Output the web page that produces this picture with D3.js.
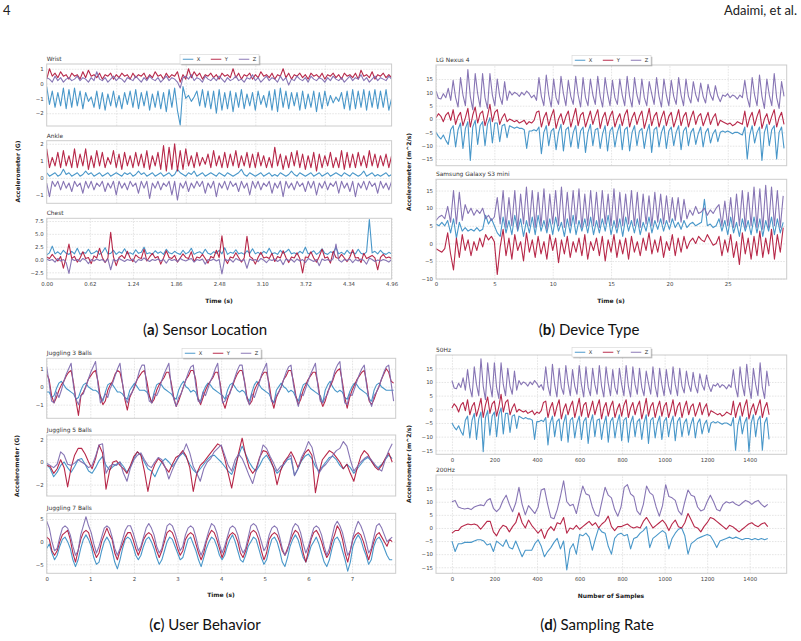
<!DOCTYPE html>
<html><head><meta charset="utf-8">
<script src="https://cdn.jsdelivr.net/npm/d3@7"></script>
<style>body{margin:0;background:#fff}svg{display:block}</style>
</head><body>
<svg id="c" width="801" height="641"></svg>
<script>
// ---------------- DATA ----------------
const axisNames = ["X", "Y", "Z"];
// (a) Sensor location, sampled every 0.04 s
const wristX = [-0.2,-1.4,-0.5,-1.6,-0.6,-1.5,-0.3,-1.7,-0.4,-1.6, -0.3,-1.5,-0.5,-1.7,-0.6,-1.2,-0.9,-1.6,-0.5,-1.7, -0.6,-1.8,-0.7,-1.5,-0.5,-1.6,-0.8,-1.7,-0.6,-1.4, -0.5,-1.6,-0.4,-1.7,-0.6,-1.5,-0.5,-1.8,-0.7,-1.6, -0.5,-1.7,-0.6,-1.9,-0.4,-1.6,-0.3,-1.8,-2.8,-0.2, -1.0,-0.8,-1.2,-0.9,-0.5,-1.5,-0.4,-1.6,-0.5,-1.7, -0.5,-2.0,-0.4,-1.8,-0.6,-1.7,-0.5,-1.9,-0.6,-1.6, -0.4,-1.7,-0.7,-1.5,-0.6,-1.8,-0.5,-1.4,-0.8,-1.6, -0.5,-1.8,-0.4,-1.9,-0.3,-1.6,-0.5,-1.7,-0.6,-1.5, -0.6,-1.8,-0.5,-1.7,-0.7,-1.6,-0.5,-1.9,-0.6,-1.7, -0.5,-1.5,-0.8,-1.3,-0.9,-1.2,-0.6,-1.7,-0.5,-1.8, -0.4,-1.7,-0.5,-1.6,-0.4,-1.8,-0.5,-1.6,-0.4,-1.7, -0.5,-1.6,-0.4,-1.8,-1.0];
const wristY = [0.3,1.0,0.5,0.7,0.4,0.8,0.5,0.6,0.3,0.7, 0.5,0.6,0.3,0.8,0.4,0.9,0.5,0.6,0.4,0.7, 0.3,0.6,0.5,0.7,0.3,0.6,0.4,0.7,0.5,0.6, 0.3,0.7,0.4,0.6,0.5,0.7,0.3,0.6,0.4,0.8, 0.5,0.6,0.3,0.7,0.4,0.6,0.5,0.8,0.1,0.6, 0.3,1.0,0.4,0.8,0.5,0.7,0.3,0.6,0.5,0.7, 0.4,0.6,0.3,0.7,0.5,0.6,0.4,1.0,0.4,0.7, 0.3,0.6,0.5,0.7,0.3,0.6,0.4,0.8,0.5,0.6, 0.4,0.7,0.3,0.6,0.5,1.0,0.4,0.7,0.3,0.6, 0.5,0.7,0.4,0.6,0.3,0.7,0.5,0.6,0.4,0.7, 0.3,0.6,0.5,0.7,0.4,0.6,0.3,0.7,0.5,0.6, 0.4,0.7,0.3,0.9,0.5,0.6,0.4,0.8,0.3,0.6, 0.5,0.7,0.4,0.6,0.4];
const wristZ = [0.4,0.3,0.1,0.5,0.2,0.4,0.1,0.3,0.4,0.2, 0.3,0.5,0.2,0.4,0.3,0.1,0.4,0.2,0.8,0.3, 0.2,0.4,0.1,0.3,0.5,0.2,0.4,0.3,0.1,0.4, 0.3,0.2,0.5,0.3,0.1,0.4,0.2,0.5,0.3,0.2, 0.4,0.1,0.3,0.5,0.2,0.4,0.3,0.1,-0.3,0.4, 0.5,0.3,0.6,0.2,0.4,0.3,0.1,0.5,0.3,0.2, 0.4,0.2,0.5,0.3,0.1,0.4,0.2,0.3,0.5,0.2, 0.3,0.1,0.4,0.3,0.6,0.2,0.4,0.1,0.3,0.5, 0.2,0.4,0.3,0.1,0.5,0.2,0.4,-0.1,0.3,0.2, 0.5,0.3,0.2,0.4,0.1,0.5,0.3,0.2,0.4,0.3, 0.1,0.4,0.2,0.5,0.3,0.2,0.4,0.1,0.3,0.5, 0.2,0.4,0.3,0.6,0.2,0.4,0.1,0.3,0.5,0.2, 0.4,0.3,0.2,0.5,0.3];
const ankleX = [0.3,0.1,0.2,0.3,0.1,0.2,0.5,0.2,0.3,0.1, 0.2,0.3,0.1,0.2,0.4,0.2,0.3,0.1,0.2,0.3, 0.1,0.2,0.3,0.1,0.2,0.3,0.2,0.1,0.3,0.2, 0.3,0.1,0.2,0.4,0.2,0.3,0.1,0.2,0.3,0.1, 0.2,0.3,0.1,0.2,0.3,0.1,0.2,0.5,0.3,0.2, 0.1,0.3,0.2,0.4,0.1,0.2,0.3,0.1,0.2,0.3, 0.2,0.1,0.3,0.2,0.1,0.3,0.2,0.1,0.2,0.3, 0.5,0.2,0.1,0.3,0.2,0.1,0.2,0.3,0.1,0.2, 0.3,0.1,0.2,0.1,0.3,0.2,0.1,0.2,0.4,0.2, 0.1,0.3,0.2,0.1,0.2,0.3,0.1,0.2,0.3,0.1, 0.2,0.3,0.1,0.2,0.3,0.2,0.1,0.3,0.2,0.1, 0.3,0.2,0.1,0.2,0.4,0.1,0.2,0.3,0.1,0.2, 0.1,0.2,0.3,0.1,0.2];
const ankleY = [1.7,0.6,1.2,0.7,1.5,0.6,1.6,0.7,1.3,0.6, 1.7,0.6,1.4,0.7,1.7,0.5,1.3,0.6,1.6,0.7, 1.5,0.6,1.2,0.8,1.6,0.6,1.4,0.5,1.5,0.7, 1.3,0.6,1.5,0.7,1.4,0.6,1.6,0.5,1.3,0.7, 1.5,0.5,1.9,0.4,1.8,0.5,2.0,0.4,1.6,0.5, 1.7,0.7,1.3,0.6,1.5,0.7,1.2,0.8,1.4,0.6, 1.6,0.7,1.3,0.6,1.5,0.6,1.4,0.7,1.6,0.6, 1.3,0.7,1.5,0.6,1.4,0.6,1.5,0.7,1.3,0.6, 1.2,0.6,1.8,0.7,1.4,0.5,1.3,0.6,1.5,0.7, 1.6,0.6,1.4,0.5,1.3,0.6,1.5,0.4,1.4,0.6, 1.3,0.7,1.5,0.6,1.2,0.6,1.6,0.5,1.5,0.6, 1.4,0.6,1.5,0.7,1.3,0.6,1.6,0.7,1.4,0.6, 1.3,0.7,1.4,0.6,1.3];
const ankleZ = [-0.3,-1.1,-0.2,-0.5,-0.2,-0.7,-0.2,-0.6,-0.3,-0.8, -0.2,-0.5,-0.3,-0.9,-0.2,-0.6,-0.2,-0.7,-0.3,-0.5, -0.2,-0.8,-0.3,-0.6,-0.2,-1.0,-0.2,-0.6,-0.3,-0.7, -0.2,-0.5,-0.3,-0.9,-0.2,-0.6,-0.2,-1.2,-0.3,-0.6, -0.2,-0.7,-0.3,-0.5,-0.2,-1.0,-0.2,-1.3,-0.3,-0.6, -0.2,-0.8,-0.3,-0.6,-0.2,-0.5,-0.2,-0.9,-0.3,-0.6, -0.2,-1.1,-0.3,-0.6,-0.2,-0.7,-0.2,-0.5,-0.3,-0.8, -0.2,-0.6,-0.3,-1.0,-0.2,-0.6,-0.2,-0.7,-0.3,-0.5, -0.2,-0.9,-0.3,-0.6,-0.2,-1.1,-0.2,-0.6,-0.3,-0.7, -0.2,-0.5,-0.3,-0.8,-0.2,-0.6,-0.2,-1.0,-0.3,-0.6, -0.2,-0.7,-0.3,-0.5,-0.2,-0.9,-0.2,-0.6,-0.3,-0.8, -0.2,-1.1,-0.3,-0.6,-0.2,-0.7,-0.2,-0.5,-0.3,-0.9, -0.2,-0.6,-0.3,-0.7,-0.2];
const chestX = [0.9,1.3,2.6,1.1,1.5,1.0,1.8,1.2,1.0,1.6, 1.1,2.2,1.0,1.4,1.2,2.0,1.1,1.3,1.7,1.0, 1.4,2.3,1.1,1.2,1.8,1.0,1.5,1.2,2.1,1.1, 1.3,1.0,1.9,1.2,1.4,2.4,1.1,1.3,1.0,1.7, 1.2,1.5,1.0,2.0,1.3,1.1,1.6,1.2,1.0,1.8, 1.1,1.4,2.2,1.0,1.3,1.5,1.1,2.0,1.2,1.0, 1.5,1.2,1.8,1.1,2.3,1.0,1.4,1.2,1.9,1.1, 1.3,1.0,1.7,1.2,2.1,1.1,1.4,1.0,1.6,1.2, 2.2,1.1,1.3,1.0,1.8,1.2,1.5,2.0,1.1,1.3, 1.0,1.6,1.2,2.4,1.1,1.3,1.7,1.0,1.4,2.1, 1.2,1.0,1.5,1.3,2.3,1.1,1.4,1.0,1.8,1.2, 1.4,1.1,2.0,1.2,1.0,1.5,7.8,1.3,1.6,1.1, 1.8,1.2,1.0,1.4,1.1];
const chestY = [0.5,0.2,1.0,0.3,-0.3,0.6,-1.7,0.4,3.0,0.2, 0.6,-0.5,0.3,1.5,0.2,0.4,-0.8,0.7,0.3,2.2, 0.4,-0.6,0.3,5.3,0.5,-1.2,0.4,0.8,0.2,1.6, 0.3,-0.4,0.9,0.4,0.2,2.0,-0.3,0.5,1.2,0.3, 0.6,-0.9,0.3,1.7,0.4,0.2,0.8,-0.5,0.3,1.1, 0.4,0.2,1.5,-0.4,0.5,0.3,1.0,0.2,-0.7,0.6, 0.3,1.8,0.4,4.6,0.2,-0.8,0.5,0.3,1.3,0.4, -0.5,0.3,4.5,0.6,0.2,-0.9,0.4,1.4,0.3,0.5, 0.2,1.2,-0.4,0.6,0.3,1.7,0.4,-0.6,0.5,0.3, 1.3,0.2,-2.6,0.5,0.4,1.5,0.3,-0.5,0.6,2.0, 0.3,0.5,-0.7,1.6,0.4,0.2,1.0,0.3,-0.4,0.5, 1.9,0.3,0.4,-0.6,1.2,0.2,0.5,0.8,0.3,-2.0, 0.4,1.0,0.3,0.5,0.2];
const chestZ = [0.1,-0.2,0.0,-0.5,0.2,-0.3,0.0,-0.6,-2.7,0.1, -0.2,0.0,-0.4,0.2,-0.1,-0.8,0.0,-0.3,0.1,-0.2, 0.0,-0.5,0.1,-2.0,0.0,-0.3,0.2,-0.1,-0.4,0.0, -0.2,0.1,-0.6,0.0,-0.2,0.3,-0.1,-0.4,0.0,-0.2, 0.1,-0.3,0.0,-0.7,0.1,-0.2,0.0,-0.4,0.2,-0.1, -0.3,0.0,0.2,-0.5,0.0,-0.2,0.1,-0.9,0.0,-0.2, 0.1,-0.3,0.0,-2.8,0.1,-0.2,0.0,-0.5,0.2,-0.1, -0.3,0.0,-1.7,0.1,-0.2,0.0,-0.4,0.2,-0.1,-0.6, 0.0,-0.2,0.1,-0.4,0.0,-1.0,0.1,-0.2,0.0,-0.5, 0.1,-0.3,0.0,-0.6,0.2,-0.1,-0.4,0.0,-1.2,0.1, -0.2,0.0,-0.3,0.2,3.0,-0.1,-0.5,0.0,-0.2,0.1, -0.6,0.0,-0.3,0.1,-0.2,-0.9,0.3,0.0,-0.4,-0.1, -0.3,0.0,-0.2,-0.5,0.0];
// (b) LG Nexus 4 (also the 50Hz recording in (d)), one value every 0.21 s
const nexusX = [-5.0,-6.5,-7.5,-6.0,-8.0,-9.5,-4.0, -2.5,-10.5,-4.0,-1.5,-11.0,-3.5,-1.0,-15.5,-3.0,-0.5,-9.5,-2.5,-1.0,-10.0,-2.0,0.5,-9.0,-1.5,-1.5,-8.5,-2.5,-2.0,-7.0, -2.5,-3.0,-3.5,-3.0,-3.5,-3.5,-4.0,-11.0,-4.5,-4.5,-4.0, -4.5, -3.0,-13.0,-5.0,-2.5,-10.0,-4.5,-3.5,-11.5,-5.0,-2.0,-12.0,-4.0,-3.0,-10.5,-5.0,-2.5,-11.0,-4.5,-3.0,-12.5,-5.0,-2.0,-10.0,-4.0,-3.5,-11.0,-5.5,-2.5,-12.0,-4.5,-3.0,-10.5,-5.0,-2.0,-11.5,-4.0,-3.0,-12.0,-5.0,-2.5,-10.0,-4.5,-3.5,-11.0,-5.0,-2.0,-12.5,-4.0,-3.0,-10.5,-5.0,-2.5,-11.0,-4.5,-3.0,-10.0,-5.0,-2.5,-11.5,-4.5,-3.0,-10.0,-5.0,-3.5,-9.5,-5.5,-3.0,-10.5,-5.0,-3.5,-9.0,-5.5,-4.0,-8.5,-5.0, -4.5,-5.0,-4.5,-5.0,-5.5,-5.0,-5.0,-5.5,-6.0, -3.0,-15.0,-6.0,-2.5,-9.0,-5.0,-3.0,-15.5,-5.0,-2.0,-10.0,-4.0,-2.5,-15.0,-5.0,-3.0,-11.0];
const nexusY = [0.5,2.0,1.0,-1.0,1.5,2.5,-0.5, 3.5,-2.0,1.0,2.5,-2.5,0.5,4.0,-3.0,1.5,4.5,-1.5,2.0,3.0,-2.5,1.0,5.5,-1.0,2.5,3.5,-2.0,0.5,2.0,-1.0, 0.0,-0.5,-1.0,-0.5,-1.5,-1.0,-0.5,-2.0,-1.0,-1.5,-0.5, 2.5, 3.0,-3.0,0.5,2.5,-2.5,1.0,3.5,-3.5,0.0,2.0,-2.0,1.0,3.0,-3.0,0.5,4.0,-2.5,1.5,2.5,-3.0,0.0,3.0,-2.0,1.0,3.5,-3.5,0.5,2.5,-2.5,1.0,3.0,-3.0,0.0,2.0,-2.5,1.5,3.5,-3.0,0.5,2.5,-2.0,1.0,3.0,-3.5,0.0,4.0,-2.5,1.0,2.5,-3.0,0.5,3.0,-2.5,1.0,2.5,-3.0,0.0,3.5,-2.5,1.0,2.5,-3.0,0.5,3.0,-2.0,1.0,2.0,-2.5,0.0,2.5,-2.0,0.5,2.0,-2.5,-0.5, -1.0,-1.5,-2.0,-1.5,-2.5,-2.0,-1.0,-1.5,-2.0, 3.0,-3.0,0.5,2.5,-2.5,1.0,3.5,-3.5,0.0,2.0,-2.0,1.0,3.5,-3.0,0.5,2.5,-2.0];
const nexusZ = [10.5,7.8,7.5,9.5,8.0,11.5,7.0, 14.5,8.0,4.5,15.5,9.0,5.0,18.5,8.5,3.5,17.0,9.5,4.5,17.0,8.0,4.0,17.0,9.0,5.0,15.0,8.5,5.5,14.0,7.0, 10.5,9.0,10.0,9.5,8.5,10.0,9.0,10.5,9.5,8.0,9.0, 7.0, 15.5,8.5,5.0,16.5,9.0,4.5,15.0,8.0,5.5,16.0,9.5,5.0,14.5,8.5,5.5,16.0,9.0,4.5,15.5,8.0,5.0,15.0,9.0,5.5,16.0,8.5,4.5,15.5,9.5,5.0,14.5,8.0,5.5,15.0,9.0,5.0,16.0,8.5,4.5,15.5,9.0,5.5,15.0,8.0,5.0,14.0,9.5,5.5,15.5,8.5,4.5,15.0,9.0,5.0,14.5,8.5,5.5,15.5,9.0,5.0,15.0,8.5,6.0,14.0,9.0,6.5,13.5,8.5,6.0,13.0,9.0,7.0,12.5,8.5,6.5, 9.0,8.5,9.5,8.0,9.0,8.5,7.5,9.0,8.0, 14.5,8.0,4.5,15.5,9.0,5.0,16.5,8.5,4.0,15.0,9.0,5.0,17.0,8.0,4.0,14.0,8.5];
// (b) Samsung Galaxy S3 mini, one value every 0.25 s
const samsungX = [5.5,5.0,6.0,5.0, 6.5,3.0,7.0,1.5,6.0,3.5, 4.5,3.5,4.0,3.5,4.5,3.5,4.0, 8.0,5.5,7.0,5.0, 3.0,2.0, 7.5,3.0,6.5,2.5,8.0,3.5,7.0,2.0,6.5,3.0,7.5,2.5,8.0,3.5,6.5,3.0,7.0,2.5,7.5,3.5,6.0,2.0,7.0,3.0,8.0,2.5,6.5,3.5,7.0,3.0,7.5,2.5,6.5,3.0,7.0,3.5,8.0,2.5,6.5,3.0,7.0,2.0,7.5,3.5,6.5,3.0,7.0,2.5,6.0,3.5,7.5,3.0,6.5,4.0,7.0,3.5,6.5,4.0,7.0,4.5,6.0,4.0,6.5,4.5, 5.5,6.0,5.0,5.5,6.0,12.5,5.0,5.5,4.5,5.0, 7.0,3.5,6.5,2.5,7.5,3.0,6.0,2.0,7.0,3.5,6.5,2.5,7.5,3.0,7.0,2.0,6.5,3.5,7.5,2.5,7.0,3.0,6.0];
const samsungY = [-1.5,-2.0,-2.5,-1.5, 3.0,-3.0,-7.5,1.5,-4.0,2.5, -2.0,1.0,-3.5,0.5,-2.0,1.5,-1.0, 2.5,1.0,2.0,0.5, -8.8,-1.0, 4.0,-3.5,1.5,-4.5,2.5,-2.0,0.5,-5.0,3.0,-2.5,1.0,-4.0,2.0,-3.0,0.5,-4.5,2.5,-2.0,1.5,-5.5,1.0,-3.0,2.0,-4.0,0.5,-2.5,1.5,-3.5,2.5,-4.5,0.5,-2.0,1.5,-3.5,2.0,-5.0,1.0,-2.5,2.5,-4.0,1.0,-3.0,1.5,-4.5,2.0,-2.5,0.5,-3.5,1.5,-2.0,3.0,-3.0,1.0,-2.5,2.0,-4.0,0.5,-2.0,2.5,-3.5,1.5,-2.5,2.0,-1.5, 0.5,1.5,0.0,2.0,1.0,0.5,2.5,1.0,-0.5,0.0, 2.0,-3.5,1.0,-2.5,2.5,-4.0,0.5,-6.0,3.0,-3.0,1.5,-4.5,2.0,-3.5,3.5,-4.0,1.5,-3.0,4.0,-4.5,2.5,-2.5,4.5];
const samsungZ = [6.5,7.5,8.0,7.0, 10.5,6.0,15.0,5.5,14.5,6.5, 11.0,8.5,10.0,8.0,9.5,8.5,10.0, 7.0,8.0,6.5,7.5, 13.0,5.5, 15.0,4.5,13.0,5.0,15.0,4.0,14.0,5.5,16.0,5.0,15.0,4.5,14.5,5.0,15.5,4.0,14.0,5.5,15.0,5.0,16.0,4.5,14.5,5.0,15.0,5.5,15.5,4.5,14.0,5.0,15.0,5.0,14.5,4.5,15.0,5.5,14.0,5.0,15.5,4.5,14.5,5.0,14.0,5.5,15.0,5.0,14.5,4.5,14.0,5.5,13.5,5.0,14.5,6.0,14.0,5.5,13.5,6.0,13.0,6.5,13.0,6.0,12.5,7.0, 9.5,8.0,10.5,8.5,9.0,10.0,8.0,9.5,8.5,10.0, 11.0,5.0,12.0,5.0,13.0,4.5,14.0,5.0,15.0,4.5,14.5,5.0,16.0,4.5,15.5,4.0,16.5,4.5,16.0,5.0,15.0,4.5,13.5];
// (c) User behaviour
const jug3X = [-0.3,-0.3,-0.6,-0.5,-0.1,0.2,0.3,0.1,-0.1,-0.2, -0.3,-0.4,-0.7,-0.6,-0.2,0.1,0.2,0.0,-0.1,-0.2, -0.2,-0.3,-0.5,-0.8,-0.3,0.1,0.2,0.1,-0.1,-0.3, -0.3,-0.4,-0.6,-0.7,-0.2,0.0,0.2,0.0,-0.2,-0.2, -0.2,-0.3,-0.5,-0.9,-0.3,0.1,0.2,0.1,-0.1,-0.2, -0.3,-0.4,-0.6,-0.7,-0.2,0.1,0.3,0.0,-0.1,-0.3, -0.2,-0.3,-0.7,-0.8,-0.3,0.0,0.2,0.1,-0.1,-0.2, -0.3,-0.4,-0.5,-0.7,-0.2,0.1,0.2,0.0,-0.2,-0.3, -0.2,-0.3,-0.6,-0.8,-0.3,0.1,0.3,0.1,-0.1,-0.2, -0.3,-0.4,-0.7,-0.9,-0.2,0.0,0.2,0.0,-0.1,-0.3, -0.2,-0.3,-0.6,-0.8,-0.3,0.1,0.2,0.1,-0.1,-0.2, -0.3,-0.4,-0.5,-0.9,-0.2,0.1,0.3,0.0,-0.2,-0.3, -0.2,-0.3,-0.6,-0.7,-0.3,0.0,0.2,0.1,-0.1,-0.2, -0.3,-0.4,-0.7,-0.8,-0.2,0.1,0.2,0.0,-0.1,-0.2, -0.2,-0.2,-0.2];
const jug3Y = [0.7,0.4,-0.5,-0.9,-0.6,-0.2,0.1,0.3,0.6,0.8, 0.9,0.2,-0.8,-1.6,-0.5,-0.3,0.0,0.4,0.6,0.8, 0.9,0.3,-0.6,-1.0,-0.8,-0.2,0.1,0.3,0.7,0.9, 0.8,0.2,-0.7,-1.3,-0.6,-0.3,0.0,0.4,0.6,0.8, 0.9,0.3,-0.5,-0.9,-0.7,-0.2,0.1,0.3,0.5,0.8, 0.8,0.2,-0.6,-1.1,-0.8,-0.4,0.0,0.4,0.6,0.9, 0.9,0.4,-0.7,-1.0,-0.6,-0.2,0.1,0.3,0.5,0.8, 0.8,0.2,-0.8,-1.2,-0.7,-0.3,0.0,0.4,0.7,0.9, 0.9,0.3,-0.6,-1.0,-0.8,-0.2,0.1,0.3,0.6,0.8, 0.8,0.2,-0.7,-1.2,-0.6,-0.3,0.0,0.4,0.6,0.9, 0.9,0.3,-0.5,-1.0,-0.7,-0.2,0.1,0.4,0.6,0.8, 0.8,0.2,-0.7,-1.1,-0.8,-0.3,0.0,0.3,0.7,0.9, 1.0,0.3,-0.6,-1.2,-0.6,-0.2,0.1,0.4,0.6,0.8, 0.9,0.2,-0.8,-1.0,-0.7,-0.3,0.0,0.4,0.7,1.0, 0.8,0.3,0.2];
const jug3Z = [1.1,0.2,-0.8,-0.9,-0.3,-0.6,-0.2,0.3,0.7,1.0, 1.3,0.0,-0.7,-1.0,-0.5,-0.4,0.0,0.4,0.8,1.1, 1.4,0.1,-0.9,-0.7,-0.4,-0.6,-0.1,0.2,0.6,1.0, 1.3,0.2,-0.6,-0.9,-0.5,-0.3,0.1,0.4,0.9,1.2, 1.2,-0.1,-0.8,-0.9,-0.4,-0.5,-0.2,0.3,0.7,1.0, 1.3,0.0,-0.7,-1.1,-0.6,-0.4,0.0,0.4,0.8,1.1, 1.2,0.1,-0.8,-0.9,-0.3,-0.5,-0.1,0.3,0.6,1.0, 1.3,0.0,-0.9,-0.8,-0.5,-0.4,0.1,0.5,0.9,1.2, 1.2,0.2,-0.7,-1.0,-0.4,-0.6,-0.2,0.2,0.7,1.0, 1.3,-0.1,-0.8,-0.9,-0.5,-0.3,0.0,0.4,0.8,1.1, 1.2,0.1,-0.6,-1.1,-0.4,-0.5,-0.1,0.3,0.7,1.0, 1.3,0.0,-0.8,-0.9,-0.6,-0.4,0.1,0.4,0.9,1.2, 1.4,0.1,-0.9,-1.0,-0.4,-0.5,-0.1,0.3,0.7,1.0, 1.2,0.0,-0.7,-1.1,-0.5,-0.3,0.0,0.4,0.8,1.1, 1.2,0.2,-0.8];
const jug5X = [-0.2,-0.6,-1.3,-0.9,-0.3,0.0,-0.5,-0.9,-0.4,0.2, 0.3,-0.2,-0.8,-1.0,-0.5,0.1,0.5,-0.3,-0.7,-0.4, -0.2,0.0,-0.4,-0.9,-0.4,0.3,0.9,0.6,0.0,-0.6, -0.8,-1.3,-0.6,0.0,0.3,0.0,-0.4,0.0,0.5,0.8, 0.4,-0.2,-0.7,-1.0,-0.6,-0.2,0.2,0.5,0.6,0.3, 0.0,-0.4,-0.8,-1.1,-0.3,0.6,1.4,0.7,0.0,-0.5, -0.8,-0.3,0.3,0.6,0.1,-0.5,-1.0,-0.7,-0.2,0.2, 0.3,-1.2,-0.6,0.1,0.5,0.7,0.3,-0.4,-0.8,-0.4, 0.0,0.4,0.5,0.2,-0.3,-0.6,-0.2,-0.5,-1.0,-0.6, -0.2,0.2,0.4,0.1,-0.3,-0.5,-0.2,0.2,0.6,0.3];
const jug5Y = [-0.3,-0.4,-1.0,-0.6,0.2,-0.5,-2.2,-0.5,0.6,1.2, 1.2,0.7,0.0,-0.6,0.3,1.5,0.8,-2.4,-0.8,0.0, 0.1,-0.3,-0.6,-1.0,-0.3,0.5,0.9,0.6,-0.8,-2.6, -1.0,-0.2,0.3,0.0,-0.5,-0.9,-0.2,0.4,0.6,1.0, 0.5,-0.5,-2.6,-1.0,-0.3,0.0,0.4,0.8,1.2,1.6, 1.4,0.3,-1.0,-2.3,-0.7,0.8,2.1,0.6,-0.5,-1.0, -0.6,0.4,1.0,0.9,0.3,-0.5,-2.0,-0.8,0.0,0.4, 0.9,0.3,-0.5,0.2,0.8,1.1,0.6,-2.7,-1.0,0.2, 0.6,1.0,0.8,0.4,0.0,-0.6,-0.2,-1.0,-1.7,-0.5, 0.5,1.0,0.7,0.1,-0.4,-0.7,-0.3,0.3,0.8,0.0];
const jug5Z = [-0.1,-0.3,-0.5,-0.2,0.9,0.6,-0.2,-0.3,-0.1,0.2, 0.0,-0.2,-0.5,-0.3,0.5,1.5,1.6,-1.0,-0.4,-0.2, -0.3,0.0,-1.0,-1.7,-0.5,0.2,0.6,0.8,0.2,-0.3, -0.5,0.0,0.4,0.2,-0.5,-1.5,-0.7,0.0,0.6,0.8, 1.6,0.8,-0.4,-1.0,-1.7,-0.6,0.0,0.3,0.9,1.2, 1.5,0.6,-0.3,-0.8,0.2,0.7,0.3,-0.4,-1.2,-1.9, -0.8,0.3,1.5,1.2,0.5,-0.1,-0.8,-0.4,-0.2,0.3, 0.6,-1.2,-0.6,0.4,1.0,1.8,1.3,0.0,-1.0,-0.5, -0.2,0.2,0.6,1.0,1.2,1.8,1.4,0.2,-0.8,-0.4, 0.0,0.3,0.5,0.2,-0.2,-0.6,-0.8,0.2,1.0,1.6];
const jug7X = [-1.5,-0.5,-2.5,-4.0,-3.0,-1.0,0.5,1.0, 0.0,-1.5,-4.0,-5.5,-4.0,-1.5,0.5,1.5, 0.5,-1.0,-3.5,-5.0,-4.5,-2.0,0.0,1.0, 0.0,-2.0,-4.5,-6.0,-4.0,-1.5,0.5,1.0, 0.5,-1.0,-3.0,-4.0,-3.0,-1.0,0.5,1.0, 0.0,-1.5,-3.5,-5.0,-4.0,-2.0,0.0,1.0, 0.5,-1.0,-2.5,-4.0,-3.5,-1.5,0.5,1.0, -0.5,-2.0,-4.0,-5.5,-3.5,-1.5,0.0,1.0, 0.5,-1.0,-3.0,-4.0,-3.0,-1.0,0.5,1.5, 0.0,-2.0,-4.0,-4.5,-3.0,-1.0,0.0,1.0, 0.5,-1.5,-3.5,-5.0,-4.0,-1.5,0.5,1.0, 0.0,-2.0,-4.5,-5.5,-3.5,-1.0,0.5,1.5, 0.5,-1.5,-3.5,-4.5,-3.0,-1.0,0.0,1.0, -0.5,-2.5,-4.5,-5.5,-4.0,-1.5,0.5,1.0, 0.0,-2.0,-4.0,-6.5,-4.5,-1.0,0.5,1.5, 0.5,-1.5,-3.0,-5.0,-4.0,-1.0,0.5,1.0, 0.0,-1.5,-3.0,-4.0,-4.0];
const jug7Y = [1.0,0.5,-2.0,-3.0,-2.0,0.0,1.5,2.0, 2.5,0.5,-2.5,-4.5,-2.0,0.5,2.0,2.5, 2.0,0.0,-2.0,-3.5,-2.5,0.0,1.5,3.0, 1.5,0.5,-2.5,-4.0,-2.0,-0.5,1.0,2.0, 2.0,0.5,-1.5,-3.0,-1.5,0.5,1.5,2.0, 1.5,0.0,-2.0,-3.5,-2.0,0.0,2.0,2.5, 2.0,0.5,-1.5,-3.0,-2.0,0.5,1.5,2.0, 1.5,-0.5,-2.5,-4.0,-2.5,0.0,1.5,2.5, 2.0,0.5,-1.5,-3.5,-2.0,0.5,1.5,2.0, 1.5,0.0,-2.5,-3.5,-2.0,0.0,2.0,2.5, 2.0,0.5,-2.0,-4.0,-2.5,0.5,1.5,2.0, 1.5,0.0,-2.0,-3.0,-1.5,0.0,1.5,2.5, 2.0,0.5,-2.5,-4.5,-2.0,0.5,2.0,2.5, 1.5,0.0,-2.0,-3.5,-2.5,0.0,1.5,3.5, 2.5,0.5,-2.5,-4.5,-2.0,0.5,1.5,2.0, 1.5,0.0,-2.0,-4.0,-2.0,0.0,1.5,2.0, 1.0,0.0,-1.0,0.5,0.0];
const jug7Z = [4.5,3.0,0.0,-2.0,-1.5,1.0,3.0,3.5, 3.0,1.5,-1.0,-3.0,-2.0,1.5,3.5,5.5, 3.5,2.0,-0.5,-2.5,-1.0,1.0,3.0,3.5, 3.0,1.0,-1.5,-3.0,-1.5,0.5,2.5,3.5, 3.5,2.0,0.0,-2.0,-1.0,1.0,3.0,4.0, 3.0,1.5,-1.0,-2.5,-1.5,1.0,3.5,4.0, 3.5,2.0,0.0,-2.0,-1.0,1.5,3.0,3.5, 3.0,1.0,-1.5,-3.0,-1.5,0.5,2.5,4.0, 3.5,2.0,-0.5,-2.5,-1.0,1.0,3.0,3.5, 3.0,1.5,-1.0,-2.5,-1.5,1.0,3.5,4.0, 3.5,2.0,0.0,-2.0,-1.0,1.5,3.0,3.5, 3.0,1.0,-1.5,-3.0,-2.0,0.5,3.0,4.0, 3.5,2.0,-0.5,-2.5,-1.0,1.0,3.0,3.5, 3.0,1.5,-1.0,-3.0,-1.5,1.0,3.5,4.5, 3.5,2.0,-0.5,-3.0,-2.0,1.0,3.0,4.5, 3.5,2.0,0.0,-2.5,-1.5,1.0,3.5,4.0, 3.0,1.5,0.0,0.5,1.0];
// (d) 200Hz recording, one value every 15 samples
const hz200X = [-5.0,-9.0,-6.0,-6.0,-5.5,-5.5,-5.5,-5.0,-4.5,-4.5, -5.0,-6.5,-6.0,-9.0,-5.0,-6.0,-7.0,-4.5,-7.5,-8.0, -5.0,-8.0,-11.0,-8.5,-8.5,-8.5,-6.0,-4.5,-7.0,-11.0, -9.0,-7.5,-5.5,-4.0,-8.0,-5.0,-16.0,-8.0,-6.0,-10.0, -2.5,-3.0,-2.0,-3.5,-8.5,-4.0,0.0,-1.5,-2.0,-7.0, -10.0,-4.0,-2.5,-2.0,-3.0,-2.5,-8.0,-4.0,-3.5,-2.0, -1.0,0.5,-7.5,-4.0,-3.0,-2.0,-1.0,-2.0,-8.0,-4.0, -2.0,-0.5,0.0,-3.0,-10.0,-6.0,-5.0,-4.0,-3.5,-3.0, -2.5,-3.0,-5.0,-7.5,-5.0,-4.5,-4.0,-3.5,-4.0,-3.5, -4.0,-4.5,-4.0,-4.0,-4.5,-4.0,-4.5,-4.0,-4.5,-4.0];
const hz200Y = [-2.0,-1.0,-1.0,0.5,1.0,1.5,1.2,1.5,1.0,-0.5, 1.0,2.5,2.5,-1.5,-3.0,-0.5,1.0,0.5,-1.5,0.5, 2.0,5.8,2.0,0.0,3.0,1.0,-0.5,-2.0,-0.5,-4.0, -1.0,0.5,-1.0,2.0,1.5,4.0,-2.0,0.0,-0.5,1.0, -0.5,0.5,1.5,2.5,1.0,2.0,0.0,1.5,2.5,4.5, 0.5,-1.0,0.5,0.5,1.0,1.5,0.5,0.0,0.5,0.0, 2.5,4.0,2.0,0.0,1.0,2.0,3.0,1.5,-1.0,1.5, 3.0,0.5,0.0,2.0,5.5,3.0,0.5,0.0,-1.5,0.5, 2.0,4.0,3.5,2.5,1.5,0.5,-0.5,1.0,0.5,-0.5, -1.5,-0.5,0.5,1.5,2.0,1.0,0.5,1.5,2.0,0.5];
const hz200Z = [10.0,10.5,8.0,7.5,7.2,7.5,7.0,8.0,8.5,8.8, 8.5,10.5,11.2,7.5,6.2,7.5,10.5,12.5,9.0,6.2, 9.5,15.5,9.0,5.0,8.5,7.0,5.5,8.0,14.5,15.0, 9.0,4.0,3.5,7.0,12.0,18.0,10.0,8.5,9.0,5.5, 11.0,16.0,13.0,12.5,8.0,5.0,4.5,10.0,15.5,12.5, 11.5,7.0,4.5,8.0,15.5,16.5,13.0,12.0,6.5,5.0, 9.0,16.0,13.5,12.5,8.0,4.5,8.5,16.5,12.0,11.5, 10.5,6.5,5.0,10.0,14.5,12.5,12.0,8.0,6.5,7.0, 10.0,12.5,10.0,7.0,6.5,9.0,10.0,9.5,10.0,9.0, 8.5,9.5,10.5,10.0,9.0,10.0,10.5,9.0,8.0,9.0];
// tick labels
const chestTimeTicks = ["0.00","0.62","1.24","1.86","2.48","3.10","3.72","4.34","4.96"];
const deviceTimeTicks = [0, 5, 10, 15, 20, 25];
const jugTimeTicks = [0, 1, 2, 3, 4, 5, 6, 7];
const sampleTicks = [0, 200, 400, 600, 800, 1000, 1200, 1400];

// ---------------- DRAWING ----------------
const svg = d3.select('#c');
const COLORS = {X: '#3a8ec4', Y: '#b1163a', Z: '#7d69ae'};
const FONT = 'DejaVu Sans, sans-serif';
const minus = s => String(s).replace('-', '\u2212');
let clipN = 0;

function subplot(o) {
  const g = svg.append('g');
  const xs = d3.scaleLinear().domain(o.xd).range([o.l, o.r]);
  const ys = d3.scaleLinear().domain(o.yd).range([o.b, o.t]);
  const w = o.r - o.l, h = o.b - o.t;
  g.append('rect').attr('x', o.l).attr('y', o.t).attr('width', w).attr('height', h).attr('fill', '#fff');
  // grid via axes
  const gx = g.append('g').attr('transform', `translate(0,${o.b})`)
    .call(d3.axisBottom(xs).tickValues(o.xg).tickSize(-h).tickFormat(''));
  const gy = g.append('g').attr('transform', `translate(${o.l},0)`)
    .call(d3.axisLeft(ys).tickValues(o.yt).tickSize(-w).tickFormat(''));
  [gx, gy].forEach(a => {
    a.select('.domain').remove();
    a.selectAll('line').attr('stroke', '#dedede').attr('stroke-width', 0.8).attr('stroke-dasharray', '1.6,1.2');
  });
  // lines
  const id = 'clp' + (clipN++);
  svg.append('clipPath').attr('id', id).append('rect')
    .attr('x', o.l).attr('y', o.t).attr('width', w).attr('height', h);
  const lg = g.append('g').attr('clip-path', `url(#${id})`);
  const series = [['X', o.X], ['Y', o.Y], ['Z', o.Z]];
  series.forEach(([k, arr]) => {
    const line = d3.line().x((d, i) => xs(i * o.step)).y(d => ys(d));
    lg.append('path').datum(arr).attr('d', line).attr('fill', 'none')
      .attr('stroke', COLORS[k]).attr('stroke-width', o.lw || 1.1)
      .attr('stroke-linejoin', 'round').attr('stroke-opacity', 0.92);
  });
  // frame
  g.append('rect').attr('x', o.l).attr('y', o.t).attr('width', w).attr('height', h)
    .attr('fill', 'none').attr('stroke', '#cccccc').attr('stroke-width', 1);
  // y tick labels
  const ay = g.append('g').attr('transform', `translate(${o.l},0)`)
    .call(d3.axisLeft(ys).tickValues(o.yt).tickSize(0).tickPadding(3).tickFormat(o.yf || (d => minus(d))));
  ay.select('.domain').remove();
  ay.selectAll('text').attr('font-family', FONT).attr('font-size', 5.4).attr('fill', '#444');
  // x tick labels
  if (o.xt) {
    const ax = g.append('g').attr('transform', `translate(0,${o.b})`)
      .call(d3.axisBottom(xs).tickValues(o.xt).tickSize(0).tickPadding(3.5).tickFormat(o.xf || (d => d)));
    ax.select('.domain').remove();
    ax.selectAll('text').attr('font-family', FONT).attr('font-size', 5.4).attr('fill', '#444');
  }
  // title
  g.append('text').attr('x', o.l).attr('y', o.t - 3).text(o.title)
    .attr('font-family', FONT).attr('font-size', 5.9).attr('fill', '#333');
}

function legend(x0, y0, items) {
  const g = svg.append('g');
  g.append('rect').attr('x', x0 + 1.3).attr('y', y0 + 1.3).attr('width', 79).attr('height', 9.5).attr('fill', '#888').attr('opacity', 0.6);
  g.append('rect').attr('x', x0).attr('y', y0).attr('width', 79).attr('height', 9.5).attr('fill', '#fff').attr('stroke', '#d4d4d4').attr('stroke-width', 0.6);
  axisNames.forEach((k, i) => {
    const lx = x0 + 2.8 + i * 28;
    g.append('line').attr('x1', lx).attr('x2', lx + 10.5).attr('y1', y0 + 4.8).attr('y2', y0 + 4.8)
      .attr('stroke', COLORS[k]).attr('stroke-width', 1.2).attr('stroke-opacity', 0.75);
    g.append('text').attr('x', lx + 14).attr('y', y0 + 6.6).text(k)
      .attr('font-family', FONT).attr('font-size', 5.2).attr('fill', '#333');
  });
}

function ylabel(x, y, txt) {
  svg.append('text').attr('transform', `translate(${x},${y}) rotate(-90)`).attr('text-anchor', 'middle')
    .attr('font-family', FONT).attr('font-size', 6).attr('font-weight', 'bold').attr('fill', '#222').text(txt);
}
function xlabel(x, y, txt) {
  svg.append('text').attr('x', x).attr('y', y).attr('text-anchor', 'middle')
    .attr('font-family', FONT).attr('font-size', 6).attr('font-weight', 'bold').attr('fill', '#222').text(txt);
}

// (a)
const A = {l: 46.7, r: 391.6, xd: [0, 4.96], step: 0.04};
subplot({...A, t: 64, b: 126, yd: [-2.86, 1.32], yt: [-2, -1, 0, 1], xg: [1, 2, 3, 4], title: 'Wrist', X: wristX, Y: wristY, Z: wristZ});
subplot({...A, t: 140.7, b: 203.3, yd: [-1.49, 2.18], yt: [-1, 0, 1, 2], xg: [1, 2, 3, 4], title: 'Ankle', X: ankleX, Y: ankleY, Z: ankleZ});
subplot({...A, t: 218.3, b: 279, yd: [-3.8, 8.03], yt: [-2.5, 0, 2.5, 5, 7.5], yf: d => minus(d.toFixed(1)),
  xg: chestTimeTicks.map(Number), xt: chestTimeTicks.map(Number), xf: d => d.toFixed(2), title: 'Chest', X: chestX, Y: chestY, Z: chestZ});
legend(180, 54.5, axisNames);
ylabel(20, 171.5, 'Accelerometer (G)');
xlabel(219, 303, 'Time (s)');

// (b)
const B = {l: 436, r: 786.7, xd: [0, 30.05]};
subplot({...B, step: 0.21, t: 65, b: 165.7, yd: [-17.5, 20.25], yt: [-15, -10, -5, 0, 5, 10, 15], xg: deviceTimeTicks, title: 'LG Nexus 4', X: nexusX, Y: nexusY, Z: nexusZ});
subplot({...B, step: 0.25, t: 179.3, b: 279, yd: [-10.1, 18.2], yt: [-10, -5, 0, 5, 10, 15], xg: deviceTimeTicks, xt: deviceTimeTicks, title: 'Samsung Galaxy S3 mini', X: samsungX, Y: samsungY, Z: samsungZ});
legend(572, 55.5, axisNames);
ylabel(411, 172, 'Accelerometer (m^2/s)');
xlabel(611, 303, 'Time (s)');

// (c)
const C = {l: 46.7, r: 395.7, xd: [0, 8.0], xg: jugTimeTicks};
subplot({...C, step: 0.056, t: 358.3, b: 418.3, yd: [-1.76, 1.58], yt: [-1, 0, 1], title: 'Juggling 3 Balls', X: jug3X, Y: jug3Y, Z: jug3Z});
subplot({...C, step: 0.08, t: 435, b: 496, yd: [-3.0, 2.38], yt: [-2, 0, 2], title: 'Juggling 5 Balls', X: jug5X, Y: jug5Y, Z: jug5Z});
subplot({...C, step: 0.06, t: 513.3, b: 573.3, yd: [-6.98, 6.26], yt: [-5, 0, 5], xt: jugTimeTicks, title: 'Juggling 7 Balls', X: jug7X, Y: jug7Y, Z: jug7Z});
legend(182, 348.5, axisNames);
ylabel(19, 466, 'Accelerometer (G)');
xlabel(221, 597, 'Time (s)');

// (d)
const D = {l: 436, r: 786.7, xd: [-74.95, 1573.95], xg: sampleTicks, xt: sampleTicks};
subplot({...D, step: 10.5, t: 355, b: 454.3, yd: [-16.46, 19.86], yt: [-15, -10, -5, 0, 5, 10, 15], title: '50Hz', X: nexusX, Y: nexusY, Z: nexusZ});
subplot({...D, step: 15, t: 475, b: 573.3, yd: [-17.3, 20.2], yt: [-15, -10, -5, 0, 5, 10, 15], title: '200Hz', X: hz200X, Y: hz200Y, Z: hz200Z});
legend(572, 347.5, axisNames);
ylabel(411, 464, 'Accelerometer (m^2/s)');
xlabel(611, 598, 'Number of Samples');

// header and captions
const SERIF = 'Lato, "Open Sans", sans-serif';
svg.append('text').attr('x', 3).attr('y', 15).text('4').attr('font-family', SERIF).attr('font-size', 13).attr('fill', '#222');
svg.append('text').attr('x', 797).attr('y', 15).attr('text-anchor', 'end').text('Adaimi, et al.').attr('font-family', SERIF).attr('font-size', 13).attr('fill', '#222');
function caption(x, y, letter, txt) {
  const t = svg.append('text').attr('x', x).attr('y', y).attr('text-anchor', 'middle')
    .attr('font-family', SERIF).attr('font-size', 15).attr('fill', '#111');
  t.append('tspan').text('(');
  t.append('tspan').attr('font-weight', 'bold').text(letter);
  t.append('tspan').text(') ' + txt);
}
caption(205, 335, 'a', 'Sensor Location');
caption(589, 335, 'b', 'Device Type');
caption(205, 630, 'c', 'User Behavior');
caption(597, 630, 'd', 'Sampling Rate');
</script>
</body></html>
